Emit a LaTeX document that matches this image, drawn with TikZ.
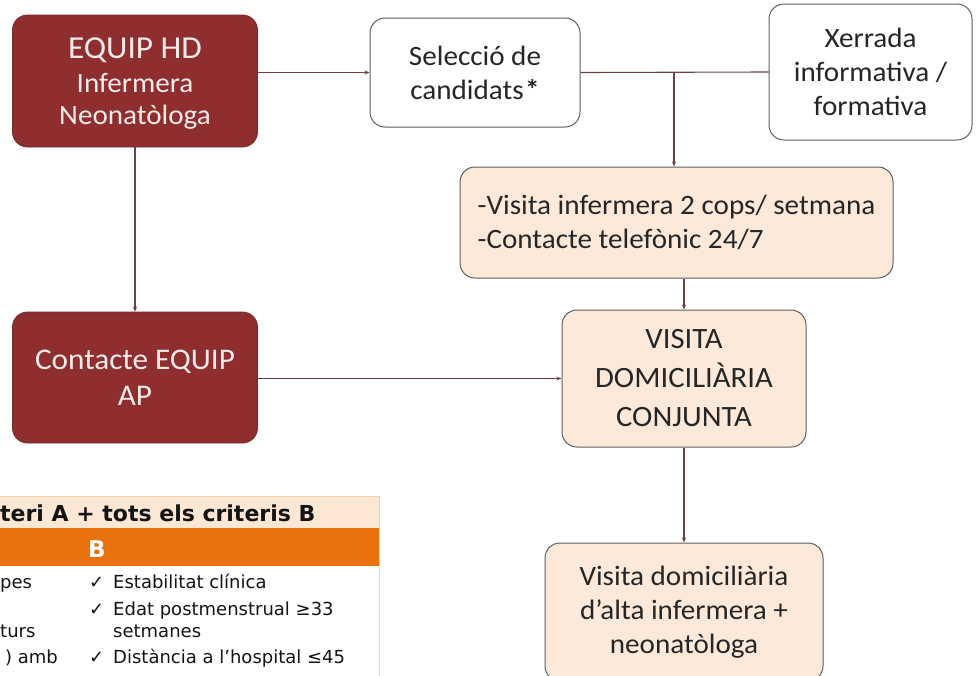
\documentclass[tikz,border=0pt]{standalone}
\usepackage{fontspec}
\setmainfont{Carlito}
\newfontfamily\boxfont[FakeStretch=1.04]{Carlito}
\newfontfamily\tabfont{DejaVu Sans}
\usetikzlibrary{arrows.meta}
\definecolor{hdred}{HTML}{8E2E2E}
\definecolor{hdtext}{HTML}{FBEAEA}
\definecolor{peach}{HTML}{FCE9DA}
\definecolor{boxgray}{HTML}{5E5E5E}
\definecolor{linec}{HTML}{6E4040}
\definecolor{taborange}{HTML}{E9720F}
\definecolor{tabpeach}{HTML}{FCE6D4}
\definecolor{tabline}{HTML}{F6CFAE}
\tikzset{
  base/.style={rounded corners=15pt, align=center, inner sep=0pt,
    font=\boxfont\fontsize{28}{34}\selectfont},
  darkbox/.style={base, fill=hdred, draw=hdred!85!black, line width=0.8pt, text=hdtext},
  whitebox/.style={base, fill=white, draw=boxgray, line width=1pt, text=black!85},
  peachbox/.style={base, fill=peach, draw=boxgray, line width=1pt, text=black!85},
  conn/.style={draw=linec, line width=1.1pt},
  arr/.style={conn, -{Stealth[length=5pt,width=4pt]}},
  tabtxt/.style={anchor=base west, inner sep=0pt, font=\tabfont\fontsize{18}{20}\selectfont, text=black!92},
}
\begin{document}
\begin{tikzpicture}[x=1pt,y=-1pt]
\useasboundingbox (0,0) rectangle (976,675);
\clip (0,0) rectangle (976,675);
% boxes
\node[darkbox, minimum width=245pt, minimum height=132pt] (hd) at (135,81)
  {\raisebox{0pt}[26pt][0pt]{\fontsize{32}{34}\selectfont EQUIP HD}\\Infermera\\[-2pt]Neonatòloga};
\node[whitebox, minimum width=210pt, minimum height=109pt] (sel) at (475,72.5)
  {Selecció de\\candidats\kern1.5pt\textbf{*}};
\node[whitebox, minimum width=203pt, minimum height=136pt] (xer) at (870.5,72)
  {Xerrada\\informativa /\\formativa};
\node[peachbox, minimum width=433pt, minimum height=111pt, align=left] (vis) at (676.5,222.5)
  {-Visita infermera 2 cops/ setmana\\-Contacte telefònic 24/7};
\node[darkbox, minimum width=245pt, minimum height=131pt, font=\boxfont\fontsize{30}{36}\selectfont] (ap) at (135,377.5)
  {Contacte EQUIP\\AP};
\node[peachbox, minimum width=244pt, minimum height=137pt, font=\boxfont\fontsize{29.5}{39}\selectfont] (conj) at (684,378.5)
  {VISITA\\DOMICILIÀRIA\\CONJUNTA};
\node[peachbox, minimum width=278pt, minimum height=138pt] (alta) at (684,612)
  {Visita domiciliària\\d’alta infermera +\\neonatòloga};
% connectors
\draw[arr] (hd.east |- sel.west) -- (sel.west);
\draw[conn] (sel.east) -- (xer.west);
\coordinate (j) at (674,72.5);
\draw[arr] (j) -- (j |- vis.north);
\draw[arr] (hd.south) -- (ap.north);
\draw[arr] (ap.east |- conj.west) -- (conj.west);
\draw[arr] (conj.north |- vis.south) -- (conj.north);
\draw[arr] (conj.south) -- (alta.north);
% table
\fill[tabpeach] (0,496) rectangle (379,528);
\fill[taborange] (0,528) rectangle (379,566);
\fill[white] (0,566) rectangle (379,680);
\draw[tabline, line width=1pt] (0,496) -- (379,496) -- (379,680);
\node[tabtxt, font=\tabfont\bfseries\fontsize{22}{24}\selectfont] (th) at (0,521) {teri A + tots els criteris B};
\node[tabtxt, font=\tabfont\bfseries\fontsize{23}{24}\selectfont, text=white] (tb) at (88,557) {B};
\node[tabtxt] (l1) at (0,588) {pes};
\node[tabtxt] (l2) at (0,637) {turs};
\node[tabtxt, anchor=base east] (l3) at (58,663) {) amb};
\node[tabtxt] (c1) at (89,588) {✓};
\node[tabtxt] (c2) at (89,615) {✓};
\node[tabtxt] (c3) at (89,663) {✓};
\node[tabtxt] (r1) at (113,588) {Estabilitat clínica};
\node[tabtxt] (r2) at (113,615) {Edat postmenstrual ≥33};
\node[tabtxt] (r3) at (113,637) {setmanes};
\node[tabtxt] (r4) at (113,663) {Distància a l’hospital ≤45};
\end{tikzpicture}
\end{document}
